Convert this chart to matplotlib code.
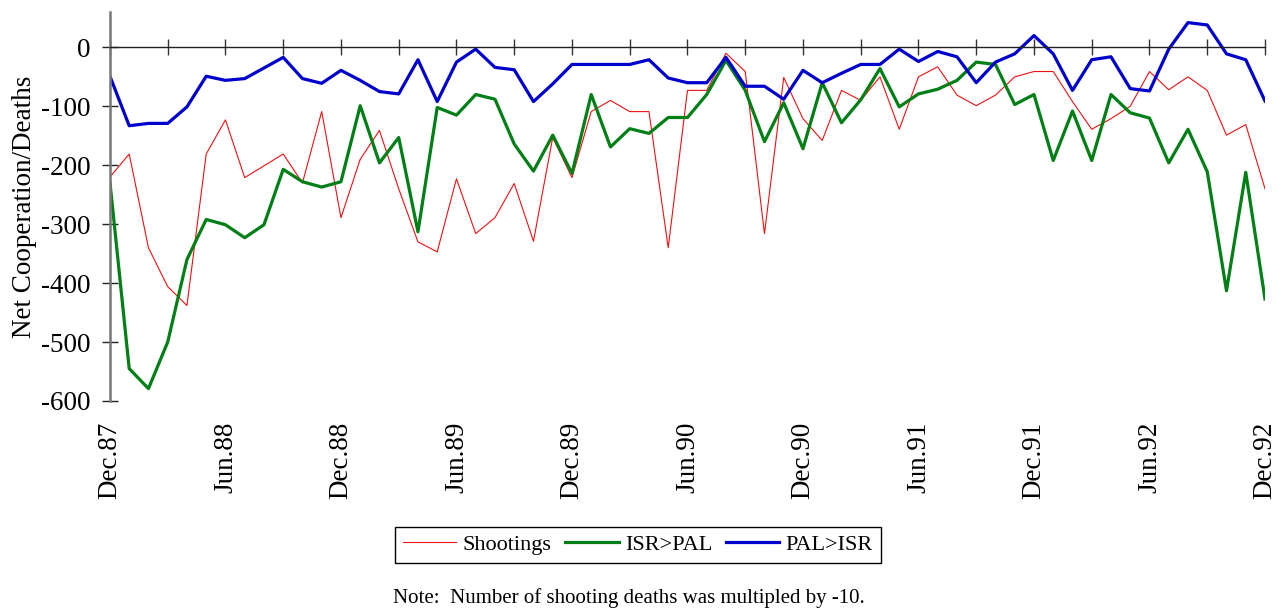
import numpy as np
import matplotlib
matplotlib.use("Agg")
import matplotlib.pyplot as plt

plt.rcParams['font.family'] = ['Liberation Serif', 'DejaVu Serif']
plt.rcParams['axes.unicode_minus'] = False

# Monthly series, Dec.87 .. Dec.92 (61 months)
shootings = [-220, -181, -340, -406, -438, -181, -123, -221, -201, -181,
             -230, -109, -289, -190, -141, -240, -330, -347, -223, -316,
             -289, -231, -329, -153, -221, -109, -90, -109, -109, -340,
             -73, -73, -10, -41, -316, -51, -121, -158, -73, -90,
             -50, -139, -50, -33, -81, -99, -81, -50, -41, -41,
             -92, -139, -121, -100, -41, -72, -50, -73, -149, -131,
             -240]
isr_pal = [-229, -545, -579, -500, -360, -292, -301, -323, -301, -207,
           -228, -237, -228, -99, -196, -153, -313, -102, -115, -80,
           -88, -164, -210, -149, -214, -80, -169, -138, -146, -119,
           -119, -80, -22, -73, -160, -94, -172, -60, -128, -89,
           -36, -101, -79, -71, -56, -25, -29, -97, -80, -192,
           -108, -192, -80, -111, -120, -196, -139, -211, -413, -212,
           -427]
pal_isr = [-49, -133, -129, -129, -101, -49, -56, -53, -35, -17,
           -53, -61, -39, -56, -75, -79, -21, -92, -25, -3,
           -34, -38, -92, -62, -29, -29, -29, -29, -21, -52,
           -60, -60, -17, -66, -66, -88, -39, -60, -44, -29,
           -29, -3, -24, -7, -16, -60, -25, -11, 20, -11,
           -73, -21, -16, -70, -74, -3, 42, 38, -11, -21,
           -91]
tick_labels = ["Dec.87", "Jun.88", "Dec.88", "Jun.89", "Dec.89", "Jun.90",
               "Dec.90", "Jun.91", "Dec.91", "Jun.92", "Dec.92"]

months = np.arange(len(shootings))

fig = plt.figure(figsize=(12.77, 6.12), dpi=100)
ax = fig.add_axes([0.0861, 0.3448, 0.9045, 0.6356])

ax.plot(months, shootings, color='#ee1111', lw=0.8, label='Shootings')
ax.plot(months, isr_pal, color='#007f16', lw=2.3, label='ISR>PAL')
ax.plot(months, pal_isr, color='#0000cc', lw=2.3, label='PAL>ISR')

ax.set_xlim(0, 60)
ax.set_ylim(-600, 60)

# x axis line sits at zero, ticks every 3 months with no labels
ax.spines['top'].set_visible(False)
ax.spines['right'].set_visible(False)
ax.spines['bottom'].set_position(('data', 0))
ax.spines['bottom'].set_color('#222222')
ax.spines['bottom'].set_linewidth(1.0)
ax.spines['left'].set_color('#777777')
ax.spines['left'].set_linewidth(1.8)
ax.set_xticks(np.arange(0, 61, 3))
ax.set_xticklabels([])
ax.tick_params(axis='x', direction='inout', length=11, width=1, color='#333333')
ax.set_yticks(np.arange(-600, 1, 100))
ax.tick_params(axis='y', direction='inout', length=11.5, width=1, color='#222222',
               labelsize=19.5, pad=8)

# date labels along the bottom
sec = ax.secondary_xaxis(0.0)
sec.set_xticks(np.arange(0, 61, 6))
sec.set_xticklabels(tick_labels, rotation=90, fontsize=19.5)
sec.tick_params(length=0, pad=15)
sec.spines[:].set_visible(False)

ax.set_ylabel('Net Cooperation/Deaths', fontsize=19.5)
ax.yaxis.set_label_coords(-0.0632, 0.5)

leg = fig.legend(loc='center', bbox_to_anchor=(0.4996, 0.1095), ncol=3,
                 fontsize=16, frameon=True, fancybox=False, framealpha=1,
                 edgecolor='black', handlelength=2.4, handletextpad=0.3,
                 columnspacing=0.6, borderpad=0.35)
leg.get_frame().set_linewidth(1.0)

fig.text(0.4922, 0.0228, 'Note:  Number of shooting deaths was multipled by -10.',
         ha='center', va='center', fontsize=15)

fig.savefig('out.png', dpi=100)
